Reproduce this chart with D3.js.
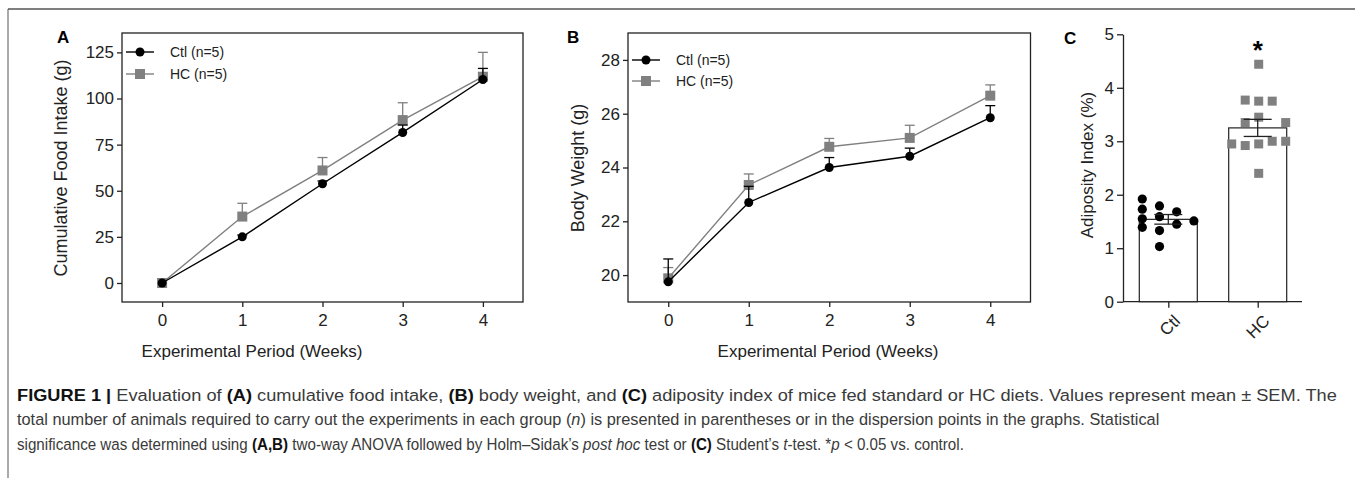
<!DOCTYPE html>
<html>
<head>
<meta charset="utf-8">
<script src="https://cdn.jsdelivr.net/npm/d3@7"></script>
<style>
  body { margin: 0; background: #fff; }
  svg { display: block; font-family: "Liberation Sans", Arial, sans-serif; }
</style>
</head>
<body>
<div id="fig"></div>
<script>
// ---- data ----
var weeks = [0, 1, 2, 3, 4];

// panel A: cumulative food intake (g)
var foodCtl = [0, 25, 53.8, 81.6, 110.3];
var foodCtlSem = [0, 1, 1.5, 4, 6];
var foodHC = [0, 36, 61, 88.3, 111.8];
var foodHCSem = [0, 7.2, 7, 9.4, 13.2];

// panel B: body weight (g)
var bwCtl = [19.75, 22.7, 24.0, 24.42, 25.85];
var bwCtlSem = [0.85, 0.6, 0.37, 0.3, 0.45];
var bwHC = [19.88, 23.35, 24.77, 25.1, 26.67];
var bwHCSem = [0.4, 0.41, 0.31, 0.47, 0.4];

// panel C: adiposity index (%)
var groups = ["Ctl", "HC"];
var adipMean = [1.54, 3.25];
var adipSem = [0.09, 0.16];
var adipCtlPts = [1.92, 1.73, 1.55, 1.39, 1.79, 1.59, 1.33, 1.03, 1.68, 1.45, 1.51];
var adipCtlCol = [0, 0, 0, 0, 1, 1, 1, 1, 2, 2, 3];
var adipHCPts = [2.95, 3.77, 3.35, 2.92, 4.44, 3.75, 3.45, 2.95, 2.4, 3.75, 3.0, 3.35, 3.0];
var adipHCCol = [0, 1, 1, 1, 2, 2, 2, 2, 2, 3, 3, 4, 4];

var legendLabels = ["Ctl (n=5)", "HC (n=5)"];

var W = 1355, H = 478;
var grey = "#808080";
var ink = "#222";

var svg = d3.select("#fig").append("svg")
    .attr("width", W)
    .attr("height", H);

// figure frame (top + left rule)
svg.append("line").attr("x1", 8).attr("x2", W).attr("y1", 9).attr("y2", 9)
    .attr("stroke", "#555").attr("stroke-width", 1.6);
svg.append("line").attr("x1", 8).attr("x2", 8).attr("y1", 9).attr("y2", H)
    .attr("stroke", "#555").attr("stroke-width", 1);

function linePanel(cfg) {
    var g = svg.append("g");
    var x = d3.scaleLinear().domain([-0.5, 4.5]).range([cfg.left, cfg.right]);
    var y = d3.scaleLinear().domain(cfg.ydom).range([cfg.bottom, cfg.top]);

    // frame
    g.append("rect")
        .attr("x", cfg.left).attr("y", cfg.top)
        .attr("width", cfg.right - cfg.left).attr("height", cfg.bottom - cfg.top)
        .attr("fill", "none").attr("stroke", ink).attr("stroke-width", 1.3);

    var xa = g.append("g").attr("transform", "translate(0," + cfg.bottom + ")")
        .call(d3.axisBottom(x).tickValues(weeks).tickSize(5).tickSizeOuter(0).tickFormat(d3.format("d")));
    var ya = g.append("g").attr("transform", "translate(" + cfg.left + ",0)")
        .call(d3.axisLeft(y).tickValues(cfg.yticks).tickSize(5).tickSizeOuter(0).tickPadding(3));
    [xa, ya].forEach(function(a) {
        a.select(".domain").remove();
        a.selectAll("line").attr("stroke", ink).attr("stroke-width", 1.3);
        a.selectAll("text").attr("font-size", 17).attr("fill", ink)
            .attr("font-family", "Liberation Sans, Arial, sans-serif");
    });
    xa.selectAll("text").attr("dy", "0.95em");

    g.append("text").attr("x", cfg.xtitleX).attr("y", cfg.bottom + 55)
        .attr("text-anchor", "middle").attr("font-size", 17).attr("fill", ink)
        .text("Experimental Period (Weeks)");
    g.append("text")
        .attr("transform", "translate(" + cfg.ytitleX + "," + cfg.ytitleY + ") rotate(-90)")
        .attr("text-anchor", "middle").attr("dy", "0.35em").attr("font-size", 18).attr("fill", ink)
        .text(cfg.ytitle);
    g.append("text").attr("x", cfg.letterX).attr("y", 43)
        .attr("font-size", 17).attr("font-weight", "bold").text(cfg.letter);

    var series = [
        { v: cfg.ctl, s: cfg.ctlSem, color: "#000", shape: "circle" },
        { v: cfg.hc, s: cfg.hcSem, color: grey, shape: "square" }
    ];
    var line = d3.line().x(function(d, i) { return x(weeks[i]); }).y(function(d) { return y(d); });

    // draw HC first so control sits on top where they overlap at week 0
    series.slice().reverse().forEach(function(sr) {
        var eb = g.append("g");
        sr.v.forEach(function(v, i) {
            if (sr.s[i] <= 0) return;
            var cx = x(weeks[i]);
            eb.append("line").attr("x1", cx).attr("x2", cx)
                .attr("y1", y(v)).attr("y2", y(v + sr.s[i]))
                .attr("stroke", sr.color).attr("stroke-width", 1.3);
            eb.append("line").attr("x1", cx - 5).attr("x2", cx + 5)
                .attr("y1", y(v + sr.s[i])).attr("y2", y(v + sr.s[i]))
                .attr("stroke", sr.color).attr("stroke-width", 1.3);
        });
        g.append("path").datum(sr.v).attr("d", line)
            .attr("fill", "none").attr("stroke", sr.color).attr("stroke-width", 1.4);
        drawMarkers(g, sr, sr.v.map(function(d, i) { return [x(weeks[i]), y(d)]; }));
    });

    // legend
    var lg = g.append("g");
    series.forEach(function(sr, i) {
        var ly = cfg.legY + i * cfg.legGap;
        lg.append("line").attr("x1", cfg.left + 4).attr("x2", cfg.left + 32)
            .attr("y1", ly).attr("y2", ly).attr("stroke", sr.color).attr("stroke-width", 1.4);
        drawMarkers(lg, sr, [[cfg.left + 18, ly]]);
        lg.append("text").attr("x", cfg.left + 48).attr("y", ly).attr("dy", "0.35em")
            .attr("font-size", 14).attr("fill", ink).text(legendLabels[i]);
    });
}

function drawMarkers(g, sr, pts) {
    if (sr.shape === "circle") {
        g.selectAll(null).data(pts).enter().append("circle")
            .attr("cx", function(d) { return d[0]; }).attr("cy", function(d) { return d[1]; })
            .attr("r", 4.5).attr("fill", sr.color);
    } else {
        g.selectAll(null).data(pts).enter().append("rect")
            .attr("x", function(d) { return d[0] - 5; }).attr("y", function(d) { return d[1] - 5; })
            .attr("width", 10).attr("height", 10).attr("fill", sr.color);
    }
}

linePanel({
    left: 122, right: 523, top: 33, bottom: 302,
    ydom: [-10.3, 135.5], yticks: [0, 25, 50, 75, 100, 125],
    ctl: foodCtl, ctlSem: foodCtlSem, hc: foodHC, hcSem: foodHCSem,
    ytitle: "Cumulative Food Intake (g)", ytitleX: 61, ytitleY: 168,
    xtitleX: 252, letter: "A", letterX: 57,
    legY: 52, legGap: 22
});

linePanel({
    left: 628, right: 1030.5, top: 33, bottom: 302,
    ydom: [19, 29], yticks: [20, 22, 24, 26, 28],
    ctl: bwCtl, ctlSem: bwCtlSem, hc: bwHC, hcSem: bwHCSem,
    ytitle: "Body Weight (g)", ytitleX: 578, ytitleY: 168,
    xtitleX: 828, letter: "B", letterX: 567,
    legY: 60, legGap: 21
});

// ---- panel C: bar + dot plot ----
(function() {
    var g = svg.append("g");
    var left = 1123, bottom = 301.7;
    var y = d3.scaleLinear().domain([0, 5]).range([bottom, 34.3]);
    var x = d3.scalePoint().domain(groups).range([1168.3, 1257.7]);
    var bw = 58;

    var ya = g.append("g").attr("transform", "translate(" + left + ",0)")
        .call(d3.axisLeft(y).ticks(5).tickSize(6).tickSizeOuter(0).tickPadding(3));
    ya.select(".domain").attr("stroke", ink).attr("stroke-width", 1.3);
    var xa = g.append("g").attr("transform", "translate(0," + bottom + ")")
        .call(d3.axisBottom(x).tickSize(6).tickSizeOuter(0));
    xa.select(".domain").attr("d", "M" + left + ",0H1302").attr("stroke", ink).attr("stroke-width", 1.3);
    [xa, ya].forEach(function(a) {
        a.selectAll("line").attr("stroke", ink).attr("stroke-width", 1.3);
        a.selectAll("text").attr("font-size", 17).attr("fill", ink)
            .attr("font-family", "Liberation Sans, Arial, sans-serif");
    });
    xa.selectAll("text").attr("text-anchor", "end").attr("dy", null).attr("y", null)
        .attr("transform", "translate(4,12) rotate(-45)").attr("dy", "0.7em");

    g.append("text")
        .attr("transform", "translate(1087,165) rotate(-90)")
        .attr("text-anchor", "middle").attr("dy", "0.35em").attr("font-size", 17).attr("fill", ink)
        .text("Adiposity Index (%)");
    g.append("text").attr("x", 1064).attr("y", 44)
        .attr("font-size", 17).attr("font-weight", "bold").text("C");

    // bars
    g.selectAll(".bar").data(groups).enter().append("rect")
        .attr("x", function(d) { return x(d) - bw / 2; })
        .attr("y", function(d, i) { return y(adipMean[i]); })
        .attr("width", bw)
        .attr("height", function(d, i) { return bottom - y(adipMean[i]); })
        .attr("fill", "#fff").attr("stroke", ink).attr("stroke-width", 1.2);

    // points
    var colStep = 13.5;
    g.selectAll(".ctlpt").data(adipCtlPts).enter().append("circle")
        .attr("cx", function(d, i) { return x("Ctl") - 26 + adipCtlCol[i] * 17.2; })
        .attr("cy", function(d) { return y(d); })
        .attr("r", 4.6).attr("fill", "#000");
    g.selectAll(".hcpt").data(adipHCPts).enter().append("rect")
        .attr("x", function(d, i) { return x("HC") - 26 + adipHCCol[i] * colStep - 4.5; })
        .attr("y", function(d) { return y(d) - 4.5; })
        .attr("width", 9).attr("height", 9).attr("fill", grey);

    // mean +/- SEM
    groups.forEach(function(gr, i) {
        var cx = x(gr);
        var top = y(adipMean[i] + adipSem[i]), lo = y(adipMean[i] - adipSem[i]);
        g.append("line").attr("x1", cx).attr("x2", cx).attr("y1", top).attr("y2", lo)
            .attr("stroke", ink).attr("stroke-width", 1.3);
        [top, lo].forEach(function(yy) {
            g.append("line").attr("x1", cx - 14).attr("x2", cx + 14).attr("y1", yy).attr("y2", yy)
                .attr("stroke", ink).attr("stroke-width", 1.3);
        });
    });

    g.append("text").attr("x", x("HC")).attr("y", 59)
        .attr("text-anchor", "middle").attr("font-size", 26).attr("font-weight", "bold")
        .text("*");
})();

// ---- caption ----
// the journal font is condensed; each line is squeezed/stretched to its measured width
var cap = svg.append("g").attr("font-family", "'Liberation Sans', Arial, sans-serif")
    .attr("font-size", 16.5).attr("fill", "#3a3a3a");

var capLines = [
    { y: 401, w: 1321, parts: [
        ["FIGURE 1 | ", "b"], ["Evaluation of ", ""], ["(A)", "b"], [" cumulative food intake, ", ""],
        ["(B)", "b"], [" body weight, and ", ""], ["(C)", "b"],
        [" adiposity index of mice fed standard or HC diets. Values represent mean \u00b1 SEM. The", ""]] },
    { y: 425, w: 1143, parts: [
        ["total number of animals required to carry out the experiments in each group (", ""], ["n", "i"],
        [") is presented in parentheses or in the dispersion points in the graphs. Statistical", ""]] },
    { y: 450, w: 948, parts: [
        ["significance was determined using ", ""], ["(A,B)", "b"],
        [" two-way ANOVA followed by Holm\u2013Sidak\u2019s ", ""], ["post hoc", "i"], [" test or ", ""],
        ["(C)", "b"], [" Student\u2019s ", ""], ["t", "i"], ["-test. *", ""], ["p", "i"],
        [" < 0.05 vs. control.", ""]] }
];
capLines.forEach(function(l) {
    var t = cap.append("text").attr("x", 0).attr("y", 0);
    l.parts.forEach(function(p) {
        var ts = t.append("tspan").text(p[0]);
        if (p[1] === "b") ts.attr("font-weight", "bold").attr("fill", "#111");
        if (p[1] === "i") ts.attr("font-style", "italic");
    });
    var nat = t.node().getComputedTextLength();
    t.attr("transform", "translate(17," + l.y + ") scale(" + (l.w / nat) + ",1)");
});
</script>
</body>
</html>
